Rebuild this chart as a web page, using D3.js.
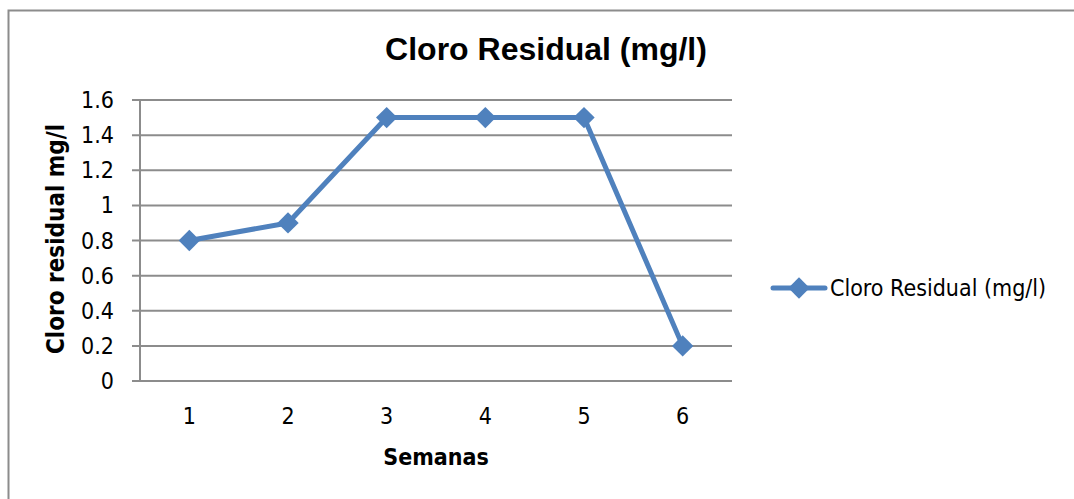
<!DOCTYPE html>
<html>
<head>
<meta charset="utf-8">
<script src="https://cdn.jsdelivr.net/npm/d3@7"></script>
<style>
body{margin:0;background:#fff;}
text{fill:#000;}
</style>
</head>
<body>
<svg id="chart"></svg>
<script>
// datos
var semanas = ["1","2","3","4","5","6"];
var cloro = [0.8, 0.9, 1.5, 1.5, 1.5, 0.2];
var yTicks = [0, 0.2, 0.4, 0.6, 0.8, 1, 1.2, 1.4, 1.6];
var serieNombre = "Cloro Residual (mg/l)";

var W = 1074, H = 499;
var azul = "#4F81BD";
var narrow = "'DejaVu Sans Condensed', 'Liberation Sans Narrow', Arial, sans-serif";

var svg = d3.select("#chart").attr("width", W).attr("height", H);

// borde del grafico
svg.append("rect")
  .attr("x", 8.5).attr("y", 10.5)
  .attr("width", 1080).attr("height", 500)
  .attr("fill", "#fff").attr("stroke", "#8c8c8c").attr("stroke-width", 2);

var pLeft = 140, pRight = 732, pTop = 100, pBottom = 381;

var x = d3.scaleBand().domain(semanas).range([pLeft, pRight]);
var y = d3.scaleLinear().domain([0, 1.6]).range([pBottom, pTop]);

// grid
svg.append("g").selectAll("line")
  .data(yTicks).enter().append("line")
  .attr("x1", pLeft - 8).attr("x2", pRight)
  .attr("y1", function(d){return y(d);}).attr("y2", function(d){return y(d);})
  .attr("stroke", "#8c8c8c").attr("stroke-width", 2);

// eje y
svg.append("line")
  .attr("x1", pLeft).attr("x2", pLeft)
  .attr("y1", pTop).attr("y2", pBottom)
  .attr("stroke", "#8c8c8c").attr("stroke-width", 2);

svg.append("g").selectAll("text")
  .data(yTicks).enter().append("text")
  .attr("x", pLeft - 26).attr("y", function(d){return y(d);})
  .attr("dy", "0.35em")
  .attr("text-anchor", "end")
  .style("font-family", narrow).style("font-size", "23px")
  .text(function(d){return d;});

svg.append("g").selectAll("text")
  .data(semanas).enter().append("text")
  .attr("x", function(d){return x(d) + x.bandwidth()/2;})
  .attr("y", 416).attr("dy", "0.35em")
  .attr("text-anchor", "middle")
  .style("font-family", narrow).style("font-size", "23px")
  .text(function(d){return d;});

// titulos
svg.append("text")
  .attr("x", 546).attr("y", 60)
  .attr("text-anchor", "middle")
  .style("font-family", "'Liberation Sans', Arial, sans-serif")
  .style("font-size", "32px").style("font-weight", "bold")
  .text("Cloro Residual (mg/l)");

svg.append("text")
  .attr("x", 436).attr("y", 465)
  .attr("text-anchor", "middle")
  .style("font-family", narrow).style("font-size", "23px").style("font-weight", "bold")
  .text("Semanas");

svg.append("text")
  .attr("transform", "translate(64,239) rotate(-90)")
  .attr("text-anchor", "middle")
  .style("font-family", narrow).style("font-size", "24px").style("font-weight", "bold")
  .text("Cloro residual mg/l");

// serie
var line = d3.line()
  .x(function(d, i){return x(semanas[i]) + x.bandwidth()/2;})
  .y(function(d){return y(d);});

svg.append("path")
  .datum(cloro)
  .attr("d", line)
  .attr("fill", "none").attr("stroke", azul)
  .attr("stroke-width", 5).attr("stroke-linejoin", "round");

var diamante = d3.symbol().type(d3.symbolDiamond2).size(290);
svg.append("g").selectAll("path")
  .data(cloro).enter().append("path")
  .attr("d", diamante)
  .attr("transform", function(d, i){
    return "translate(" + (x(semanas[i]) + x.bandwidth()/2) + "," + y(d) + ")";
  })
  .attr("fill", azul);

// leyenda
var ly = 288;
svg.append("line")
  .attr("x1", 773).attr("x2", 825).attr("y1", ly).attr("y2", ly)
  .attr("stroke", azul).attr("stroke-width", 5).attr("stroke-linecap", "round");
svg.append("path")
  .attr("d", diamante)
  .attr("transform", "translate(799," + ly + ")")
  .attr("fill", azul);
svg.append("text")
  .attr("x", 830).attr("y", ly).attr("dy", "0.35em")
  .style("font-family", narrow).style("font-size", "23px")
  .text(serieNombre);
</script>
</body>
</html>
